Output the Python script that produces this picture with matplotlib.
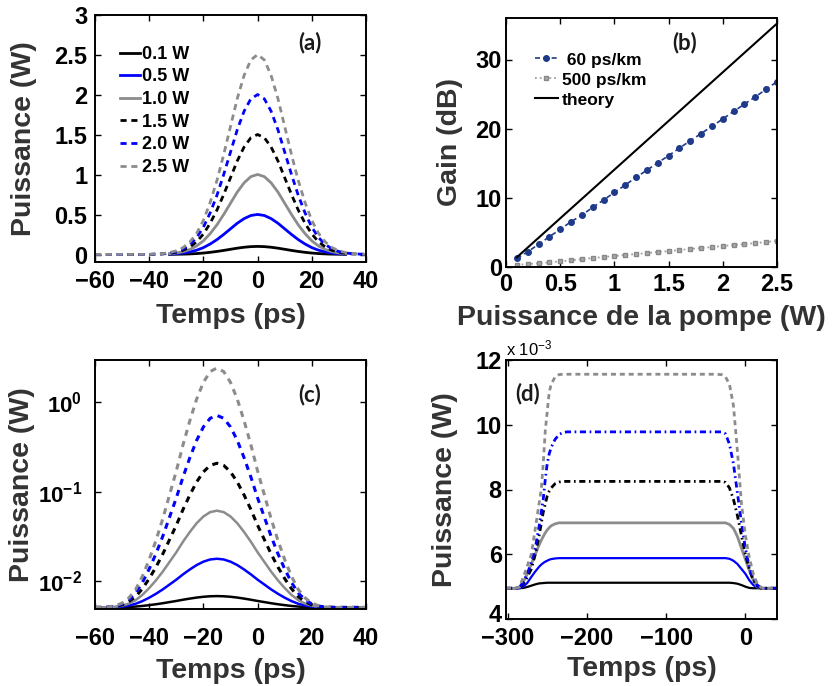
import matplotlib
matplotlib.use('Agg')
import matplotlib.pyplot as plt
import matplotlib.transforms as mtransforms
import numpy as np
from matplotlib.ticker import FixedLocator, FuncFormatter, NullLocator

plt.rcParams['font.family'] = ['Liberation Sans', 'DejaVu Sans']
plt.rcParams['font.weight'] = 'bold'
plt.rcParams['axes.labelweight'] = 'bold'
plt.rcParams['mathtext.fontset'] = 'custom'
plt.rcParams['mathtext.rm'] = 'Liberation Sans:bold'
plt.rcParams['mathtext.bf'] = 'Liberation Sans:bold'
plt.rcParams['mathtext.it'] = 'Liberation Sans:bold'
plt.rcParams['mathtext.default'] = 'regular'

# ---------------- data ----------------
# (a) pump pulses
t_a = np.arange(-60, 40.1, 2.5)
profile_a = [0, 0, 0, 0, 0, 0, 0, 0, 0,
             0.002, 0.004, 0.009, 0.018, 0.034, 0.062, 0.105, 0.17, 0.26, 0.37,
             0.50, 0.64, 0.78, 0.895, 0.973, 1.0,
             0.973, 0.895, 0.78, 0.64, 0.50, 0.37, 0.26, 0.17, 0.105, 0.062,
             0.034, 0.018, 0.009, 0.004, 0.002, 0]
pump_peaks = [0.1, 0.5, 1.0, 1.5, 2.0, 2.5]
pump_labels = ['0.1 W', '0.5 W', '1.0 W', '1.5 W', '2.0 W', '2.5 W']
signal_base = 0.005

# (b) gain vs pump power
pump_power = [0.1, 0.2, 0.3, 0.4, 0.5, 0.6, 0.7, 0.8, 0.9, 1.0, 1.1, 1.2, 1.3,
              1.4, 1.5, 1.6, 1.7, 1.8, 1.9, 2.0, 2.1, 2.2, 2.3, 2.4, 2.5]
gain_60 = [1.25, 2.2, 3.27, 4.38, 5.44, 6.55, 7.51, 8.62, 9.68, 10.79, 11.85,
           12.96, 14.0, 15.07, 16.1, 17.2, 18.25, 19.3, 20.35, 21.4, 22.5,
           23.55, 24.6, 25.7, 26.8]
gain_500 = [0.29, 0.43, 0.53, 0.67, 0.82, 0.96, 1.15, 1.3, 1.44, 1.59, 1.73,
            1.88, 2.0, 2.16, 2.3, 2.45, 2.6, 2.74, 2.88, 3.03, 3.17, 3.3, 3.46,
            3.6, 3.78]
theory_power = [0.1, 2.5]
theory_gain = [1.4, 35.2]
legend_b = [' 60 ps/km', '500 ps/km', 'theory']

# (c) amplified signal, 60 ps/km (log scale)
t_c = np.arange(-60, 40.1, 2.5)
profile_c = [0, 0.0005, 0.002, 0.007, 0.018, 0.04, 0.075, 0.13, 0.20, 0.28,
             0.37, 0.47, 0.57, 0.68, 0.78, 0.87, 0.94, 0.985, 1.0, 0.985, 0.94,
             0.87, 0.78, 0.68, 0.57, 0.47, 0.37, 0.28, 0.20, 0.13, 0.075, 0.04,
             0.018, 0.007, 0.002, 0.0005, 0, 0, 0, 0, 0]
signal_peaks_c = [0.0067, 0.0176, 0.061, 0.208, 0.716, 2.44]

# (d) amplified signal, 500 ps/km (units of 1e-3 W)
t_d = [-302, -290, -285, -280, -275, -270, -265, -260, -257.5, -255, -252.5,
       -250, -247.5, -245, -240, -235, -230, -225,
       -40, -30, -25, -20, -15, -10, -5, 0, 5, 10, 15, 20, 25, 30, 40]
d_black = [4.95, 4.95, 4.95, 4.96, 4.99, 5.03, 5.07, 5.10, 5.105, 5.11, 5.115,
           5.12, 5.12, 5.12, 5.12, 5.12, 5.12, 5.12,
           5.12, 5.12, 5.12, 5.12, 5.11, 5.09, 5.05, 5.0, 4.96, 4.95, 4.95,
           4.95, 4.95, 4.95, 4.95]
d_blue = [4.95, 4.95, 4.95, 5.0, 5.12, 5.3, 5.47, 5.62, 5.68, 5.73, 5.77, 5.8,
          5.83, 5.85, 5.87, 5.88, 5.88, 5.88,
          5.88, 5.88, 5.88, 5.86, 5.8, 5.7, 5.55, 5.4, 5.2, 5.05, 4.97, 4.95,
          4.95, 4.95, 4.95]
d_gray = [4.95, 4.95, 4.98, 5.15, 5.4, 5.7, 6.0, 6.3, 6.43, 6.55, 6.66, 6.75,
          6.82, 6.88, 6.94, 6.97, 6.97, 6.97,
          6.97, 6.97, 6.97, 6.92, 6.8, 6.55, 6.2, 5.85, 5.5, 5.2, 5.0, 4.95,
          4.95, 4.95, 4.95]
d_black_dd = [4.95, 4.95, 4.96, 5.1, 5.3, 5.55, 6.0, 6.6, 6.95, 7.3, 7.55, 7.8,
              7.95, 8.05, 8.18, 8.23, 8.25, 8.25,
              8.25, 8.25, 8.22, 8.05, 7.7, 7.2, 6.6, 6.0, 5.55, 5.2, 5.02, 4.95,
              4.95, 4.95, 4.95]
d_blue_dd = [4.95, 4.95, 4.97, 5.15, 5.4, 5.75, 6.2, 6.9, 7.3, 7.7, 8.3, 8.8,
             9.1, 9.3, 9.55, 9.7, 9.76, 9.78,
             9.78, 9.78, 9.72, 9.4, 8.8, 7.9, 7.0, 6.2, 5.6, 5.25, 5.05, 4.96,
             4.95, 4.95, 4.95]
d_gray_dd = [4.95, 4.95, 5.0, 5.3, 5.65, 6.0, 6.8, 7.6, 8.0, 8.8, 9.8, 10.4,
             11.0, 11.25, 11.48, 11.55, 11.56, 11.56,
             11.56, 11.55, 11.48, 11.25, 10.6, 9.2, 7.6, 6.6, 5.9, 5.4, 5.1,
             4.97, 4.95, 4.95, 4.95]

# ---------------- styles ----------------
GRAY = '#8c8c8c'
BLUE = '#0000ff'
LABEL_COLOR = '#333333'
curve_colors = ['black', BLUE, GRAY, 'black', BLUE, GRAY]
curve_dashed = [False, False, False, True, True, True]

fig = plt.figure(figsize=(8.35, 6.86), dpi=100)
W, H = 835.0, 686.0


def add_axes(l, r, t, b):
    return fig.add_axes([l / W, 1 - b / H, (r - l) / W, (b - t) / H])


def style(ax, xpad, ypad, xsize=17, ysize=17):
    for s in ax.spines.values():
        s.set_linewidth(1.4)
    ax.tick_params(direction='in', length=4, width=1.0, top=True, right=True)
    ax.tick_params(axis='x', labelsize=xsize, pad=xpad)
    ax.tick_params(axis='y', labelsize=ysize, pad=ypad)
    ax.minorticks_off()


def panel_label(ax, x, y, s):
    ax.text(x, y, s, fontsize=16, fontweight='bold', family=['Lato', 'DejaVu Sans'],
            color='#1a1a1a', ha='center', va='center')


axA = add_axes(95, 366, 15, 262)
axB = add_axes(506, 777, 18, 267)
axC = add_axes(95, 366, 360, 609)
axD = add_axes(506, 777, 360, 619)

# ---- (a) ----
prof_a = np.array(profile_a)
for P, c, dsh, lab in zip(pump_peaks, curve_colors, curve_dashed, pump_labels):
    y = signal_base + P * prof_a
    if dsh:
        axA.plot(t_a, y, color=c, lw=2.0, dashes=(2.2, 1.7), label=lab)
    else:
        m = np.abs(t_a) <= 32.5
        axA.plot(t_a[m], y[m], color=c, lw=2.0, label=lab)
axA.set_xlim(-60, 40)
axA.set_ylim(-0.09, 3)
axA.xaxis.set_major_locator(FixedLocator([-60, -40, -20, 0, 20, 40]))
axA.yaxis.set_major_locator(FixedLocator([0, 0.5, 1, 1.5, 2, 2.5, 3]))
axA.yaxis.set_major_formatter(FuncFormatter(lambda v, p: ('%g' % v)))
style(axA, 5.5, 5.5)
axA.set_xlabel('Temps (ps)', fontsize=20.5, color=LABEL_COLOR, fontweight='bold')
axA.set_ylabel('Puissance (W)', fontsize=20.5, color=LABEL_COLOR, fontweight='bold')
axA.xaxis.set_label_coords(0.5, -0.166)
axA.yaxis.set_label_coords(-0.214, 0.5)
axA.legend(loc='upper left', bbox_to_anchor=(0.092, 0.875), frameon=False,
           fontsize=13, handlelength=1.1, handletextpad=0.1,
           labelspacing=0.31, borderpad=0, borderaxespad=0)
panel_label(axA, 19.3, 2.65, '(a)')

# ---- (b) ----
NAVY = '#1f3a8a'
axB.plot(pump_power, gain_60, color=NAVY, lw=1.2, dashes=(3, 2), marker='o',
         ms=4, mfc=NAVY, mec=NAVY, label=legend_b[0])
axB.plot(pump_power, gain_500, color='#a0a0a0', lw=1.3, ls=':', marker='s',
         ms=3.5, mfc='#a8a8a8', mec='#888888', label=legend_b[1])
axB.plot(theory_power, theory_gain, color='black', lw=1.5, label=legend_b[2])
axB.set_xlim(0, 2.5)
axB.set_ylim(0, 36)
axB.xaxis.set_major_locator(FixedLocator([0, 0.5, 1, 1.5, 2, 2.5]))
axB.xaxis.set_major_formatter(FuncFormatter(lambda v, p: ('%g' % v)))
axB.yaxis.set_major_locator(FixedLocator([0, 10, 20, 30]))
style(axB, 4, 3)
axB.set_xlabel('Puissance de la pompe (W)', fontsize=20.5, color=LABEL_COLOR,
               fontweight='bold')
axB.set_ylabel('Gain (dB)', fontsize=20.5, color=LABEL_COLOR, fontweight='bold')
axB.xaxis.set_label_coords(0.5, -0.153)
axB.yaxis.set_label_coords(-0.159, 0.5)
axB.legend(loc='upper left', bbox_to_anchor=(0.107, 0.862), frameon=False,
           fontsize=12.5, handlelength=1.3, handletextpad=0.25,
           labelspacing=0.28, borderpad=0, borderaxespad=0)
panel_label(axB, 1.65, 32.4, '(b)')

# ---- (c) ----
prof_c = np.array(profile_c)
for P, c, dsh in zip(signal_peaks_c, curve_colors, curve_dashed):
    y = signal_base * (P / signal_base) ** prof_c
    if dsh:
        axC.plot(t_c, y, color=c, lw=2.2, dashes=(2.0, 1.8))
    else:
        axC.plot(t_c, y, color=c, lw=1.8)
axC.set_yscale('log')
axC.set_xlim(-60, 40)
axC.set_ylim(0.0048, 3.0)
axC.xaxis.set_major_locator(FixedLocator([-60, -40, -20, 0, 20, 40]))
axC.yaxis.set_major_locator(FixedLocator([0.01, 0.1, 1]))
axC.yaxis.set_minor_locator(NullLocator())
axC.yaxis.set_major_formatter(FuncFormatter(
    lambda v, p: r'$10^{%d}$' % int(round(np.log10(v)))))
style(axC, 13, 9.5, ysize=16)
axC.set_xlabel('Temps (ps)', fontsize=20.5, color=LABEL_COLOR, fontweight='bold')
axC.set_ylabel('Puissance (W)', fontsize=20.5, color=LABEL_COLOR, fontweight='bold')
axC.xaxis.set_label_coords(0.5, -0.197)
axC.yaxis.set_label_coords(-0.221, 0.5)
panel_label(axC, 19.3, 1.23, '(c)')

# ---- (d) ----
d_series = [d_black, d_blue, d_gray, d_black_dd, d_blue_dd, d_gray_dd]
for k, (vals, c) in enumerate(zip(d_series, curve_colors)):
    y = np.array(vals) * 1e-3
    if k < 3:
        axD.plot(t_d, y, color=c, lw=1.6 if k < 2 else 2.0)
    elif k < 5:
        axD.plot(t_d, y, color=c, lw=2.0, dashes=(2.2, 1.3, 0.6, 1.3))
    else:
        axD.plot(t_d, y, color=c, lw=2.0, dashes=(1.8, 1.4))
axD.set_xlim(-302, 40)
axD.set_ylim(4e-3, 12e-3)
axD.xaxis.set_major_locator(FixedLocator([-300, -200, -100, 0]))
axD.yaxis.set_major_locator(FixedLocator([4e-3, 6e-3, 8e-3, 10e-3, 12e-3]))
axD.yaxis.set_major_formatter(FuncFormatter(lambda v, p: '%d' % round(v * 1e3)))
style(axD, 6, 3)
axD.text(0.0, 1.005, r'x 10$^{-3}$', transform=axD.transAxes, fontsize=12,
         fontweight='normal', ha='left', va='bottom')
axD.set_xlabel('Temps (ps)', fontsize=20.5, color=LABEL_COLOR, fontweight='bold')
axD.set_ylabel('Puissance (W)', fontsize=20.5, color=LABEL_COLOR, fontweight='bold')
axD.xaxis.set_label_coords(0.5, -0.142)
axD.yaxis.set_label_coords(-0.177, 0.5)
panel_label(axD, -274.7, 10.96e-3, '(d)')

# lift only the bottom y tick label of (d), as in the reference
fig.canvas.draw()
off = mtransforms.ScaledTranslation(0, 6 / 100.0, fig.dpi_scale_trans)
ylabs_d = axD.get_yticklabels()
ylabs_d[0].set_transform(ylabs_d[0].get_transform() + off)

fig.savefig('out.png', dpi=100)
